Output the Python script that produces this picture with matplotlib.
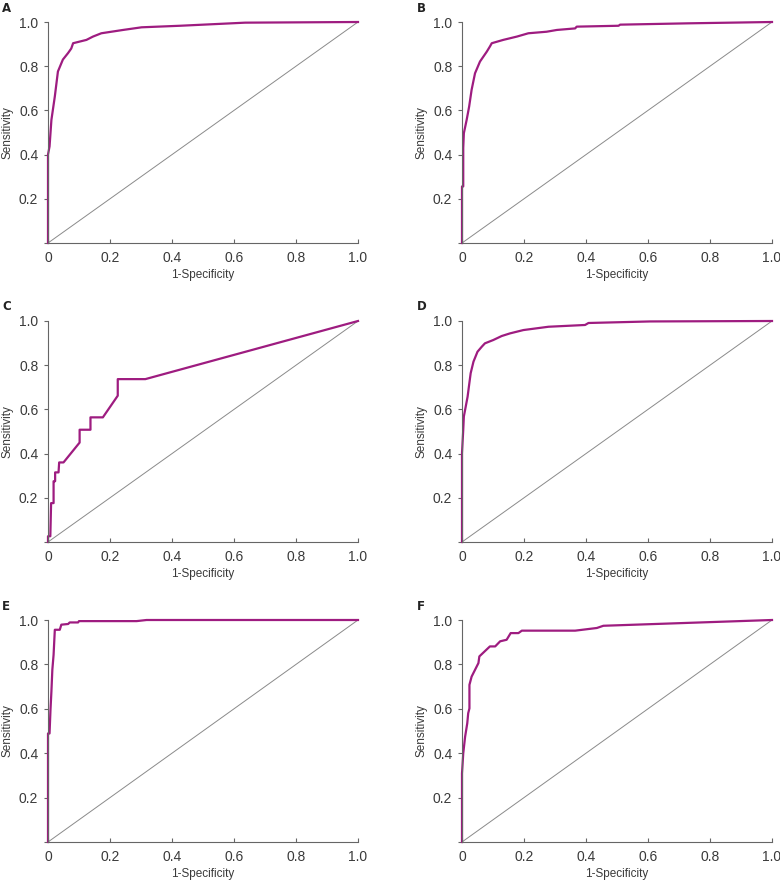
import numpy as np
import matplotlib.pyplot as plt

plt.rcParams['font.family'] = ['Liberation Sans', 'DejaVu Sans']

# ROC curves (1-specificity, sensitivity)
a_fpr = [0, 0, 0.005, 0.011, 0.022, 0.032, 0.048, 0.065, 0.075, 0.081, 0.124, 0.145, 0.172, 0.242, 0.302, 0.426, 0.636, 1.0]
a_tpr = [0, 0.40, 0.437, 0.557, 0.663, 0.776, 0.83, 0.86, 0.88, 0.904, 0.919, 0.934, 0.949, 0.964, 0.976, 0.983, 0.997, 1.0]

b_fpr = [0, 0, 0.004, 0.004, 0.006, 0.015, 0.023, 0.031, 0.042, 0.058, 0.08, 0.09, 0.096, 0.133, 0.177, 0.214, 0.273, 0.306, 0.365, 0.37, 0.505, 0.51, 0.73, 1.0]
b_tpr = [0, 0.256, 0.256, 0.43, 0.497, 0.557, 0.617, 0.693, 0.768, 0.821, 0.866, 0.889, 0.904, 0.919, 0.934, 0.949, 0.956, 0.964, 0.971, 0.979, 0.983, 0.988, 0.994, 1.0]

c_fpr = [0, 0, 0.0075, 0.01, 0.018, 0.018, 0.023, 0.023, 0.034, 0.036, 0.05, 0.102, 0.102, 0.137, 0.137, 0.177, 0.225, 0.225, 0.314, 1.0]
c_tpr = [0, 0.026, 0.026, 0.176, 0.176, 0.275, 0.275, 0.315, 0.315, 0.36, 0.36, 0.45, 0.508, 0.508, 0.564, 0.564, 0.662, 0.737, 0.737, 1.0]

d_fpr = [0, 0, 0.004, 0.006, 0.013, 0.018, 0.023, 0.028, 0.037, 0.05, 0.064, 0.074, 0.101, 0.128, 0.155, 0.198, 0.279, 0.397, 0.408, 0.607, 1.0]
d_tpr = [0, 0.402, 0.508, 0.568, 0.62, 0.657, 0.711, 0.764, 0.816, 0.861, 0.884, 0.899, 0.914, 0.932, 0.944, 0.959, 0.974, 0.982, 0.991, 0.998, 1.0]

e_fpr = [0, 0, 0.005, 0.008, 0.011, 0.014, 0.018, 0.022, 0.038, 0.043, 0.065, 0.07, 0.097, 0.1, 0.286, 0.318, 1.0]
e_tpr = [0, 0.489, 0.489, 0.595, 0.678, 0.776, 0.843, 0.956, 0.956, 0.979, 0.982, 0.989, 0.989, 0.995, 0.995, 1.0, 1.0]

f_fpr = [0, 0, 0.004, 0.01, 0.017, 0.02, 0.024, 0.024, 0.031, 0.053, 0.056, 0.09, 0.107, 0.123, 0.144, 0.157, 0.182, 0.193, 0.365, 0.435, 0.456, 1.0]
f_tpr = [0, 0.309, 0.399, 0.474, 0.535, 0.58, 0.602, 0.708, 0.745, 0.806, 0.836, 0.881, 0.881, 0.904, 0.911, 0.941, 0.941, 0.952, 0.952, 0.964, 0.974, 1.0]

panels = ['A', 'B', 'C', 'D', 'E', 'F']
curves = [(a_fpr, a_tpr), (b_fpr, b_tpr), (c_fpr, c_tpr),
          (d_fpr, d_tpr), (e_fpr, e_tpr), (f_fpr, f_tpr)]
xticks = [0, 0.2, 0.4, 0.6, 0.8, 1.0]
xlabels = ['0', '0.2', '0.4', '0.6', '0.8', '1.0']
yticks = [0, 0.2, 0.4, 0.6, 0.8, 1.0]
ylabels = ['', '0.2', '0.4', '0.6', '0.8', '1.0']

fig = plt.figure(figsize=(7.8, 8.83), dpi=100)

W, H = 780, 883
lefts = [48, 462]
# (top, bottom) pixel rows of each axes row
rows = [(22, 243), (321, 542), (620, 842)]
line_col = '#9e1c80'
txt_col = '#3a3a3a'
ax_col = '#666666'

for i, (name, (fx, ty)) in enumerate(zip(panels, curves)):
    r, c = divmod(i, 2)
    top, bot = rows[r]
    l = lefts[c]
    ax = fig.add_axes([l / W, 1 - bot / H, 310 / W, (bot - top) / H])
    ax.plot([0, 1], [0, 1], color='#8a8a8a', lw=0.7)
    ax.plot(fx, ty, color=line_col, lw=1.6, clip_on=False)
    ax.set_xlim(0, 1)
    ax.set_ylim(0, 1)
    ax.set_xticks(xticks)
    ax.set_xticklabels(xlabels)
    ax.set_yticks(yticks)
    ax.set_yticklabels(ylabels)
    for s in ['top', 'right']:
        ax.spines[s].set_visible(False)
    for s in ['left', 'bottom']:
        ax.spines[s].set_color(ax_col)
        ax.spines[s].set_linewidth(0.8)
    ax.tick_params(axis='x', direction='in', length=3, width=0.8, color=ax_col,
                   labelsize=10, labelcolor=txt_col, pad=6)
    ax.tick_params(axis='y', direction='out', length=3, width=0.8, color=ax_col,
                   labelsize=10, labelcolor=txt_col, pad=4)
    ax.set_xlabel('1-Specificity', fontsize=8.5, color=txt_col, labelpad=3)
    ax.set_ylabel('Sensitivity', fontsize=8.5, color=txt_col, labelpad=4)
    fig.text((2 if c == 0 else 417) / W, 1 - (top - 14) / H, name,
             fontsize=8.5, fontweight='bold', color='#222222', va='center', ha='left',
             family='DejaVu Sans')

fig.savefig('out.png', dpi=100)
